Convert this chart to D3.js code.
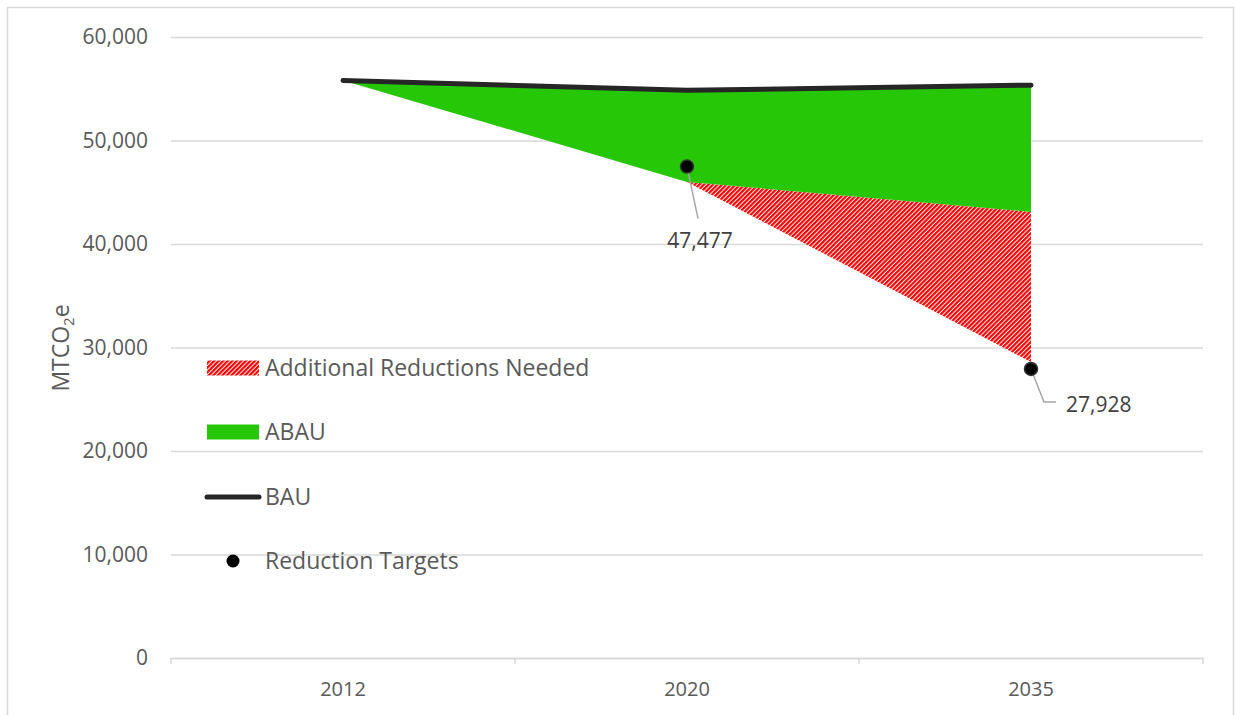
<!DOCTYPE html>
<html>
<head>
<meta charset="utf-8">
<script src="https://cdn.jsdelivr.net/npm/d3@7"></script>
<style>
  body { margin: 0; background: #fff; }
  text { font-family: 'Open Sans', 'DejaVu Sans', sans-serif; }
</style>
</head>
<body>
<div id="chart"></div>
<script>
const width = 1235
const height = 715
const margin = { top: 37, right: 32, bottom: 57, left: 171 }

// data
const years = ['2012', '2020', '2035']
const bau = [55800, 54850, 55350]
const abau = [55800, 46000, 43100]
const neededFloor = [55800, 46000, 28600]
const targets = [null, 47477, 27928]
const yTicks = [0, 10000, 20000, 30000, 40000, 50000, 60000]
const legendLabels = ['Additional Reductions Needed', 'ABAU', 'BAU', 'Reduction Targets']

const green = '#26c706'
const red = '#ff0000'
const lineColor = '#262626'
const gridColor = '#d9d9d9'

const svg = d3
  .select('#chart')
  .append('svg')
  .attr('width', width)
  .attr('height', height)

// chart border
svg
  .append('rect')
  .attr('x', 7.5)
  .attr('y', 7.5)
  .attr('width', 1226)
  .attr('height', 720)
  .attr('fill', 'none')
  .attr('stroke', gridColor)
  .attr('stroke-width', 1.5)

const defs = svg.append('defs')
const pattern = defs
  .append('pattern')
  .attr('id', 'hatch')
  .attr('patternUnits', 'userSpaceOnUse')
  .attr('width', 3.2)
  .attr('height', 3.2)
  .attr('patternTransform', 'rotate(45)')
pattern.append('rect').attr('width', 3.2).attr('height', 3.2).attr('fill', '#fff')
pattern.append('rect').attr('width', 2.2).attr('height', 3.2).attr('fill', red)

const x = d3
  .scaleBand()
  .domain(years)
  .range([margin.left, width - margin.right])

const y = d3
  .scaleLinear()
  .domain([0, 60000])
  .range([height - margin.bottom, margin.top])

const cx = d => x(d) + x.bandwidth() / 2

// gridlines + y labels
const yAxis = svg
  .append('g')
  .attr('transform', `translate(${margin.left},0)`)
  .call(
    d3
      .axisLeft(y)
      .tickValues(yTicks)
      .tickFormat(d3.format(','))
      .tickSize(-(width - margin.left - margin.right))
      .tickPadding(23)
  )
yAxis.select('.domain').remove()
yAxis.selectAll('.tick line').attr('stroke', gridColor).attr('stroke-width', 1.5)
yAxis
  .selectAll('.tick text')
  .attr('fill', '#595959')
  .style('font-size', '21px')
  .style('font-family', "'Open Sans', sans-serif")

// x axis
const xAxis = svg
  .append('g')
  .attr('transform', `translate(0,${y(0)})`)
  .call(d3.axisBottom(x).tickSize(0).tickPadding(24))
xAxis.select('.domain').attr('stroke', gridColor).attr('stroke-width', 1.5)
xAxis
  .selectAll('.tick text')
  .attr('fill', '#595959')
  .style('font-size', '20px')
  .style('font-family', "'Open Sans', sans-serif")
const bounds = years.map(d => x(d)).concat([x.range()[1]])
xAxis
  .selectAll('.bound')
  .data(bounds)
  .enter()
  .append('line')
  .attr('class', 'bound')
  .attr('x1', d => d)
  .attr('x2', d => d)
  .attr('y1', 0)
  .attr('y2', 6)
  .attr('stroke', gridColor)
  .attr('stroke-width', 1.5)

const rows = years.map((year, i) => ({
  year,
  bau: bau[i],
  abau: abau[i],
  floor: neededFloor[i],
  target: targets[i]
}))

// additional reductions needed (hatched)
svg
  .append('path')
  .datum(rows)
  .attr('fill', 'url(#hatch)')
  .attr(
    'd',
    d3
      .area()
      .x(d => cx(d.year))
      .y0(d => y(d.floor))
      .y1(d => y(d.abau))
  )

// ABAU
svg
  .append('path')
  .datum(rows)
  .attr('fill', green)
  .attr(
    'd',
    d3
      .area()
      .x(d => cx(d.year))
      .y0(d => y(d.abau))
      .y1(d => y(d.bau))
  )

// BAU line
svg
  .append('path')
  .datum(rows)
  .attr('fill', 'none')
  .attr('stroke', lineColor)
  .attr('stroke-width', 5)
  .attr('stroke-linecap', 'round')
  .attr('stroke-linejoin', 'round')
  .attr(
    'd',
    d3
      .line()
      .x(d => cx(d.year))
      .y(d => y(d.bau))
  )

// reduction targets
const targetRows = rows.filter(d => d.target !== null)

// leader lines
const leaders = [
  [[0, 0], [11, 52]],
  [[0, 0], [13, 33], [25, 33]]
]
svg
  .append('g')
  .selectAll('path')
  .data(targetRows)
  .enter()
  .append('path')
  .attr('fill', 'none')
  .attr('stroke', '#a6a6a6')
  .attr('stroke-width', 1.5)
  .attr('d', (d, i) =>
    d3.line()(leaders[i].map(p => [cx(d.year) + p[0], y(d.target) + p[1]]))
  )

svg
  .append('g')
  .selectAll('circle')
  .data(targetRows)
  .enter()
  .append('circle')
  .attr('cx', d => cx(d.year))
  .attr('cy', d => y(d.target))
  .attr('r', 6.5)
  .attr('fill', '#000')
  .attr('stroke', '#333')
  .attr('stroke-width', 1.5)

const labelOffsets = [
  { dx: 13, dy: 81, anchor: 'middle' },
  { dx: 35, dy: 43, anchor: 'start' }
]
svg
  .append('g')
  .selectAll('text')
  .data(targetRows)
  .enter()
  .append('text')
  .attr('x', (d, i) => cx(d.year) + labelOffsets[i].dx)
  .attr('y', (d, i) => y(d.target) + labelOffsets[i].dy)
  .attr('text-anchor', (d, i) => labelOffsets[i].anchor)
  .attr('fill', '#404040')
  .style('font-size', '21px')
  .text(d => d3.format(',')(d.target))

// y title
const yTitle = svg
  .append('text')
  .attr('transform', 'translate(69,348) rotate(-90)')
  .attr('text-anchor', 'middle')
  .attr('fill', '#595959')
  .style('font-size', '23px')
yTitle.append('tspan').text('MTCO')
yTitle.append('tspan').attr('dy', 5).style('font-size', '15px').text('2')
yTitle.append('tspan').attr('dy', -5).text('e')

// legend
const legend = svg.append('g').attr('transform', 'translate(207,0)')
const legendY = [368, 432, 497, 561]

legend
  .append('rect')
  .attr('x', 0)
  .attr('y', legendY[0] - 7.5)
  .attr('width', 52)
  .attr('height', 15)
  .attr('fill', 'url(#hatch)')
legend
  .append('rect')
  .attr('x', 0)
  .attr('y', legendY[1] - 7.5)
  .attr('width', 52)
  .attr('height', 15)
  .attr('fill', green)
legend
  .append('line')
  .attr('x1', 0)
  .attr('x2', 52)
  .attr('y1', legendY[2])
  .attr('y2', legendY[2])
  .attr('stroke', lineColor)
  .attr('stroke-width', 5)
  .attr('stroke-linecap', 'round')
legend
  .append('circle')
  .attr('cx', 26)
  .attr('cy', legendY[3])
  .attr('r', 6.5)
  .attr('fill', '#000')

legend
  .selectAll('.legend-label')
  .data(legendLabels)
  .enter()
  .append('text')
  .attr('class', 'legend-label')
  .attr('x', 58)
  .attr('y', (d, i) => legendY[i] + 8)
  .attr('fill', '#595959')
  .style('font-size', '23px')
  .text(d => d)
</script>
</body>
</html>
